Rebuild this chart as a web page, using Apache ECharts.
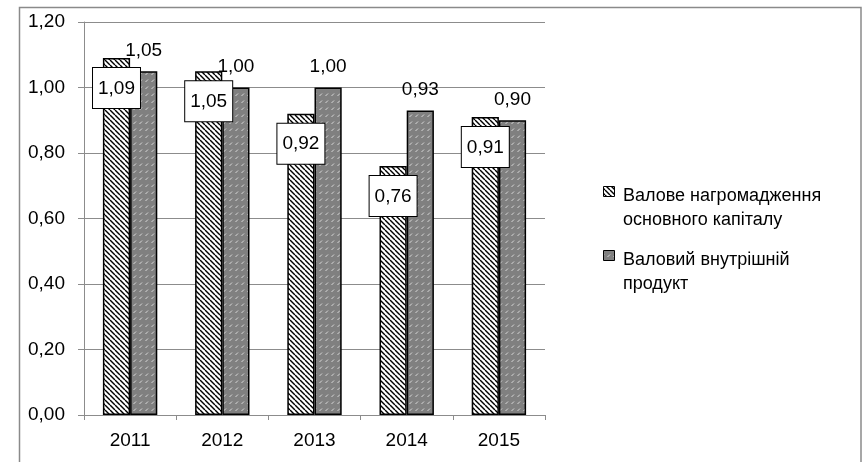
<!DOCTYPE html>
<html><head><meta charset="utf-8">
<script src="https://cdn.jsdelivr.net/npm/echarts@6/dist/echarts.min.js"></script>
<style>html,body{margin:0;padding:0;background:#fff}#c{width:864px;height:462px}</style>
</head><body><div id="c"></div>
<script>
const categories = ['2011','2012','2013','2014','2015'];
const seriesNames = ['Валове нагромадження\nосновного капіталу', 'Валовий внутрішній\nпродукт'];
const capitalValues = [1.09, 1.05, 0.92, 0.76, 0.91];
const gdpValues = [1.05, 1.00, 1.00, 0.93, 0.90];
const yTicks = {min: 0, max: 1.2, interval: 0.2};

function hatchWhite(){
  const s = 5, c = document.createElement('canvas'); c.width = s; c.height = s;
  const x = c.getContext('2d'); x.fillStyle = '#fff'; x.fillRect(0,0,s,s);
  x.strokeStyle = '#000'; x.lineWidth = 1.4;
  for (const k of [-s, 0, s]) { x.beginPath(); x.moveTo(k, 0); x.lineTo(k + s, s); x.stroke(); }
  return c;
}
function hatchGray(){
  const w = 6, h = 7, c = document.createElement('canvas'); c.width = w; c.height = h;
  const x = c.getContext('2d'); x.fillStyle = '#808080'; x.fillRect(0,0,w,h);
  x.strokeStyle = '#d8d8d8'; x.lineWidth = 1;
  x.beginPath(); x.moveTo(1.5, 5); x.lineTo(4, 2.5); x.stroke();
  return c;
}
const pat1 = hatchWhite(), pat2 = hatchGray();
const fmt = v => v.value.toFixed(2).replace('.', ',');
const font = '"Liberation Sans", Arial, sans-serif';

const chart = echarts.init(document.getElementById('c'), null, {renderer: 'canvas'});
chart.setOption({
  animation: false,
  textStyle: {fontFamily: font},
  graphic: [
    {type: 'rect', shape: {x: 19.5, y: 7.5, width: 841.5, height: 470}, style: {fill: null, stroke: '#8a8a8a', lineWidth: 1.5}, z: 100},
    {type: 'rect', shape: {x: 603.5, y: 186.5, width: 11, height: 10}, style: {fill: {image: pat1, repeat: 'repeat'}, stroke: '#000', lineWidth: 1}, z: 100},
    {type: 'rect', shape: {x: 603.5, y: 250.5, width: 11, height: 10}, style: {fill: {image: pat2, repeat: 'repeat'}, stroke: '#000', lineWidth: 1}, z: 100}
  ],
  grid: {left: 84, right: 319, top: 22, bottom: 47},
  legend: {
    orient: 'vertical', left: 600, top: 179, itemWidth: 12, itemHeight: 10, itemGap: 16,
    icon: 'rect', itemStyle: {opacity: 0},
    textStyle: {fontSize: 18, color: '#000', lineHeight: 24, fontFamily: font},
    data: seriesNames
  },
  xAxis: {
    type: 'category', data: categories,
    axisLine: {lineStyle: {color: '#8c8c8c', width: 1}},
    axisTick: {show: true, length: 5, lineStyle: {color: '#8c8c8c'}},
    axisLabel: {fontSize: 19, color: '#000', margin: 16, fontFamily: font}
  },
  yAxis: {
    type: 'value', min: yTicks.min, max: yTicks.max, interval: yTicks.interval,
    axisLine: {show: true, lineStyle: {color: '#8c8c8c', width: 1}},
    axisTick: {show: true, length: 6, lineStyle: {color: '#8c8c8c'}},
    splitLine: {lineStyle: {color: '#8c8c8c', width: 1}},
    axisLabel: {fontSize: 19, color: '#000', margin: 19, fontFamily: font,
      formatter: v => v.toFixed(2).replace('.', ',')}
  },
  series: [
    {
      name: seriesNames[0], type: 'bar', data: capitalValues,
      barGap: '0%', barCategoryGap: '41%',
      itemStyle: {color: {image: pat1, repeat: 'repeat'}, borderColor: '#000', borderWidth: 1.5},
      label: {show: true, position: 'insideTop', distance: 10, formatter: fmt,
        fontSize: 19, color: '#000', fontFamily: font, backgroundColor: '#fff',
        borderColor: '#000', borderWidth: 1, padding: [11, 5, 10, 5]},
      z: 3
    },
    {
      name: seriesNames[1], type: 'bar', data: gdpValues,
      itemStyle: {color: {image: pat2, repeat: 'repeat'}, borderColor: '#000', borderWidth: 1.5},
      label: {show: true, position: 'top', distance: 11, formatter: fmt,
        fontSize: 19, color: '#000', fontFamily: font},
      z: 2
    }
  ]
});
</script></body></html>
